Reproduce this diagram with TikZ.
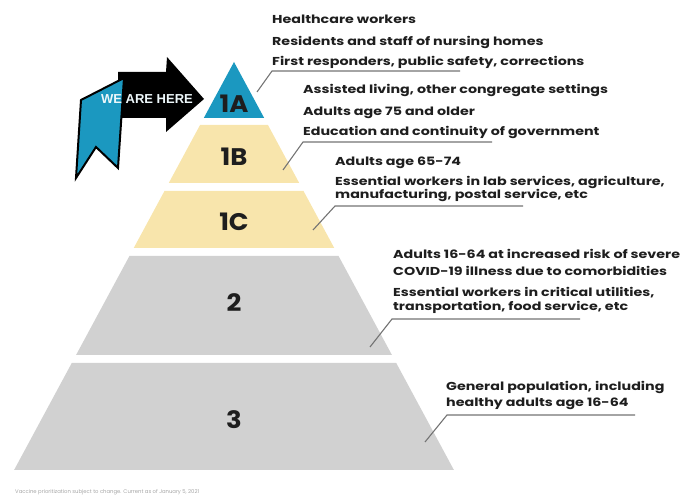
\documentclass[tikz,border=0pt]{standalone}
\usepackage{fontspec}
\newfontfamily\popfont{Poppins}[FakeStretch=1.24]
\newfontfamily\numfont{Poppins}[FakeStretch=1.08]
\newfontfamily\notefont{Poppins}
\newfontfamily\tagfont{Liberation Sans}
\usetikzlibrary{calc}
\definecolor{teal1a}{RGB}{27,152,192}
\definecolor{sand}{RGB}{248,229,172}
\definecolor{tiergray}{RGB}{209,209,209}
\definecolor{leadgray}{RGB}{115,115,115}
\definecolor{inkblack}{RGB}{30,30,30}

\begin{document}
\begin{tikzpicture}[x=1pt,y=-1pt,declare function={hw(\y)=0.539*(\y-62);},
		lnode/.style={anchor=base west,inner sep=0pt,text=inkblack,font=\popfont\bfseries\fontsize{11.5}{13}\selectfont},
		tnode/.style={inner sep=0pt,text=inkblack,font=\numfont\bfseries\fontsize{24}{24}\selectfont},
		conn/.style={draw=leadgray,line width=1.1pt}]
	\useasboundingbox (0,0) rectangle (697,502);
	% tiers of the pyramid
	\foreach \yt/\yb/\col/\lab/\ly in {62/118/teal1a/1A/104,125/183/sand/1B/157,191/248/sand/1C/222,256/355/tiergray/2/303,363/470/tiergray/3/420}
		{
			\fill[\col] ({234-hw(\yt)},\yt) -- ({234+hw(\yt)},\yt) -- ({234+hw(\yb)},\yb) -- ({234-hw(\yb)},\yb) -- cycle;
			\node[tnode] (tier\lab) at (234,\ly) {\lab};
		}
	% who is in each tier
	\foreach \tx/\ty/\txt [count=\i] in {272/24/{Healthcare workers},272/46/{Residents and staff of nursing homes},272/66/{First responders, public safety, corrections},
		303/94/{Assisted living, other congregate settings},303/116/{Adults age 75 and older},303/136/{Education and continuity of government},
		335/166/{Adults age 65-74},335/186/{Essential workers in lab services, agriculture,},335/199/{manufacturing, postal service, etc},
		393/259/{Adults 16-64 at increased risk of severe},393/276/{COVID-19 illness due to comorbidities},393/297/{Essential workers in critical utilities,},393/311/{transportation, food service, etc},
		446/391/{General population, including},446/407/{healthy adults age 16-64}}
		{
			\node[lnode] (line\i) at (\tx,\ty) {\txt};
		}
	% leader lines
	\foreach \lab/\ax/\ay/\bx/\by/\ex in {1A/257/92/272/71/460,1B/283/170/303/142/492,1C/313/230/335/206/523,2/370/347/392/319/580,3/425/442/447/415/635}
		{
			\coordinate (in\lab) at (\ax,\ay);
			\coordinate (bend\lab) at (\bx,\by);
			\coordinate (end\lab) at (\ex,\by);
			\draw[conn] (in\lab) -- (bend\lab) -- (end\lab);
		}
	% we are here arrow
	\fill[black] (118,72) -- (166,72) -- (167,57) -- (204,99) -- (166,132) -- (166,118) -- (118,118) -- cycle;
	\filldraw[fill=teal1a,draw=black,line width=2pt] (81,100) -- (124,78) -- (118,168) -- (96,147) -- (76,178) -- cycle;
	\node[inner sep=0pt,text=white!92!teal1a,font=\tagfont\bfseries\fontsize{13}{13}\selectfont] (here) at (147,99) {WE ARE HERE};
	\node[anchor=west,inner sep=0pt,text=black!35,font=\notefont\fontsize{5.3}{6}\selectfont] (note) at (15,492) {Vaccine prioritization subject to change. Current as of January 5, 2021};
\end{tikzpicture}
\end{document}
